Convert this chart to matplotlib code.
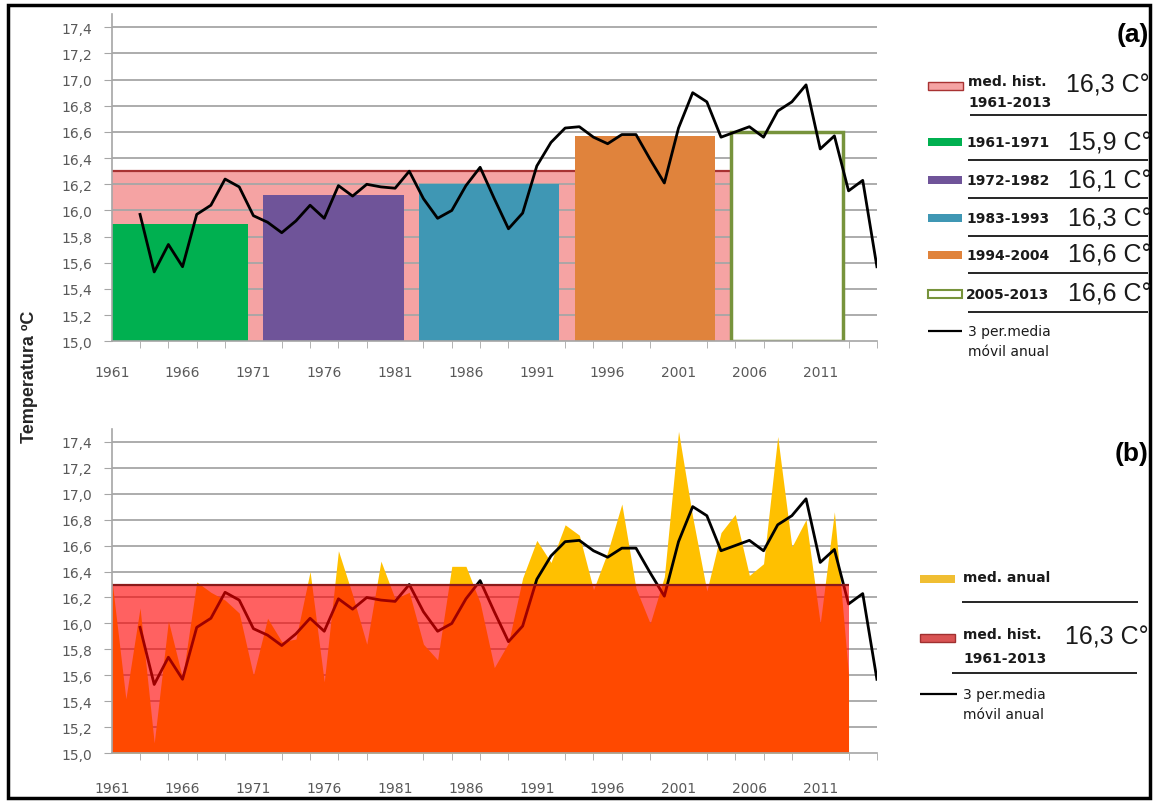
import numpy as np
import matplotlib
matplotlib.use("Agg")
import matplotlib.pyplot as plt
from matplotlib.patches import Rectangle

# ## Data

years_annual = list(range(1961, 2014))
annual_values = [
    16.35, 15.42, 16.12, 15.08, 16.02, 15.58, 16.32, 16.24, 16.18, 16.08,
    15.60, 16.04, 15.86, 15.88, 16.40, 15.55, 16.56, 16.22, 15.84, 16.48,
    16.19, 16.24, 15.84, 15.72, 16.44, 16.44, 16.16, 15.66, 15.85, 16.35,
    16.64, 16.47, 16.76, 16.68, 16.26, 16.55, 16.92, 16.27, 16.00, 16.36,
    17.48, 16.82, 16.25, 16.70, 16.84, 16.37, 16.46, 17.44, 16.59, 16.80,
    16.00, 16.86, 15.60,
]

years_ma = list(range(1963, 2016))
ma_values = [
    15.97, 15.53, 15.74, 15.57, 15.97, 16.04, 16.24, 16.18, 15.96, 15.91,
    15.83, 15.92, 16.04, 15.94, 16.19, 16.11, 16.20, 16.18, 16.17, 16.30,
    16.09, 15.94, 16.00, 16.19, 16.33, 16.09, 15.86, 15.98, 16.34, 16.52,
    16.63, 16.64, 16.56, 16.51, 16.58, 16.58, 16.39, 16.21, 16.63, 16.90,
    16.83, 16.56, 16.60, 16.64, 16.56, 16.76, 16.83, 16.96, 16.47, 16.57,
    16.15, 16.23, 15.57,
]

period_labels = ["1961-1971", "1972-1982", "1983-1993", "1994-2004", "2005-2013"]
period_start = [1961, 1972, 1983, 1994, 2005]
period_end = [1971, 1982, 1993, 2004, 2013]
period_means = [15.90, 16.12, 16.20, 16.57, 16.60]
period_value_text = ["15,9", "16,1", "16,3", "16,6", "16,6"]

hist_mean = 16.3
hist_start, hist_end = 1961, 2013
hist_value_text = "16,3"

# ## Styles

period_colors = ["#00B050", "#6F5499", "#3F97B4", "#E0833C", "white"]
period_edges = ["#00B050", "#6F5499", "#3F97B4", "#E0833C", "#77933C"]
PINK = "#F5A3A3"
DARK_RED = "#A83232"
GRID = "#A6A6A6"
TICK_TXT = "#595959"

W, H = 1158, 804
fig = plt.figure(figsize=(W / 100, H / 100), dpi=100)


def px_axes(left, top, right, bottom):
    return fig.add_axes([left / W, 1 - bottom / H, (right - left) / W, (bottom - top) / H])


def format_axis(ax, label_pad):
    ax.set_xlim(1961, 2015)
    ax.set_ylim(15.0, 17.5)
    yt = np.round(np.arange(15.0, 17.41, 0.2), 1)
    ax.set_yticks(yt)
    ax.set_yticklabels([f"{v:.1f}".replace(".", ",") for v in yt])
    ax.hlines(yt[1:], 1961, 2015, color=GRID, lw=1.3, zorder=1.5)
    ax.set_xticks(list(range(1961, 2015, 5)))
    ax.set_xticks(list(range(1961, 2016, 2)), minor=True)
    ax.tick_params(axis="x", which="major", length=0, pad=label_pad,
                   labelsize=10, labelcolor=TICK_TXT)
    ax.tick_params(axis="x", which="minor", length=5, color=GRID)
    ax.tick_params(axis="y", length=6, color=GRID, pad=8,
                   labelsize=10, labelcolor=TICK_TXT)
    for s in ["top", "right"]:
        ax.spines[s].set_visible(False)
    for s in ["left", "bottom"]:
        ax.spines[s].set_color(GRID)
        ax.spines[s].set_linewidth(1.2)
        ax.spines[s].set_zorder(6)


# ## Panel (a): period means over historic mean

ax_a = px_axes(111.7, 15.2, 876.9, 342.3)
format_axis(ax_a, 17)
ax_a.bar(hist_start, hist_mean - 15.0, bottom=15.0,
         width=period_end[-1] - 0.4 - hist_start, align="edge",
         color=PINK, linewidth=0, zorder=1)
ax_a.hlines(hist_mean, hist_start, period_start[-1] - 0.3,
            color=DARK_RED, lw=1.6, zorder=1.6)
for s, e, m, c, ec in zip(period_start, period_end, period_means,
                          period_colors, period_edges):
    lw = 2.5 if c == "white" else 0
    ax_a.bar(s - 0.3, m - 15.0, bottom=15.0, width=e - s - 0.1, align="edge",
             color=c, edgecolor=ec, linewidth=lw, zorder=2)
ax_a.plot(years_ma, ma_values, color="black", lw=2, zorder=3)

# ## Panel (b): annual means and historic mean

ax_b = px_axes(111.7, 429.7, 876.9, 754.3)
format_axis(ax_b, 20)
ax_b.fill_between(years_annual, 15.0, annual_values, color="#FFC000",
                  linewidth=0, zorder=2)
ax_b.plot(years_ma, ma_values, color="black", lw=2, zorder=3)
ax_b.bar(hist_start, hist_mean - 15.0, bottom=15.0,
         width=hist_end - hist_start, align="edge",
         color="red", alpha=0.62, linewidth=0, zorder=4)
ax_b.hlines(hist_mean, hist_start, hist_end, color="#8B1A1A", lw=1.6, zorder=4.5)

# ## Legends, labels and frame (overlay in pixel coordinates)

ov = fig.add_axes([0, 0, 1, 1], zorder=10)
ov.set_xlim(0, W)
ov.set_ylim(H, 0)
ov.axis("off")

ov.add_patch(Rectangle((8, 6), W - 16, H - 11, fill=False, lw=2.5, ec="black"))
ov.text(30, 377, "Temperatura ºC", rotation=90, ha="center", va="center",
        fontsize=13, fontweight="bold", family="Liberation Sans", color="#262626")

big = dict(family="Liberation Sans", fontsize=18, ha="right", va="center",
           color="#1a1a1a")
small_b = dict(family="DejaVu Sans", fontsize=10, fontweight="bold", va="center",
               color="#1a1a1a")
small = dict(family="DejaVu Sans", fontsize=10, va="center", color="#1a1a1a")

# panel (a) legend
ov.text(1149, 35, "(a)", ha="right", va="center", fontsize=19,
        fontweight="bold", family="Liberation Sans")
ov.add_patch(Rectangle((928, 83), 35, 8, fc=PINK, ec=DARK_RED, lw=1))
ov.text(968, 82, "med. hist.", **small_b)
ov.text(968, 103, f"{hist_start}-{hist_end}", **small_b)
ov.text(1150, 86, f"{hist_value_text} C°", **big)
ov.hlines(116, 970, 1147, color="black", lw=1.2)

row_y = [143, 181, 219, 256, 295]
for lab, val, c, ec, y in zip(period_labels, period_value_text, period_colors,
                              period_edges, row_y):
    ov.add_patch(Rectangle((928, y - 4), 34, 8, fc=c, ec=ec,
                           lw=1.5 if c == "white" else 0))
    ov.text(966, y, lab, **small_b)
    ov.text(1152, y, f"{val} C°", **big)
    ov.hlines(y + 18, 968, 1148, color="black", lw=1.2)

ov.hlines(332, 928, 962, color="black", lw=1.6)
ov.text(968, 332, "3 per.media", **small)
ov.text(968, 352, "móvil anual", **small)

# panel (b) legend
ov.text(1149, 454, "(b)", ha="right", va="center", fontsize=19,
        fontweight="bold", family="Liberation Sans")
ov.add_patch(Rectangle((920, 576), 35, 8, fc="#F0BE32", ec="none"))
ov.text(963, 578, "med. anual", **small_b)
ov.hlines(603, 962, 1138, color="black", lw=1.2)
ov.add_patch(Rectangle((920, 635), 35, 8, fc="#D95353", ec="#A03030", lw=1))
ov.text(963, 635, "med. hist.", **small_b)
ov.text(963, 659, f"{hist_start}-{hist_end}", **small_b)
ov.text(1149, 638, f"{hist_value_text} C°", **big)
ov.hlines(674, 952, 1137, color="black", lw=1.2)
ov.hlines(695, 920, 957, color="black", lw=1.6)
ov.text(963, 695, "3 per.media", **small)
ov.text(963, 715, "móvil anual", **small)

fig.savefig("out.png", dpi=100)
